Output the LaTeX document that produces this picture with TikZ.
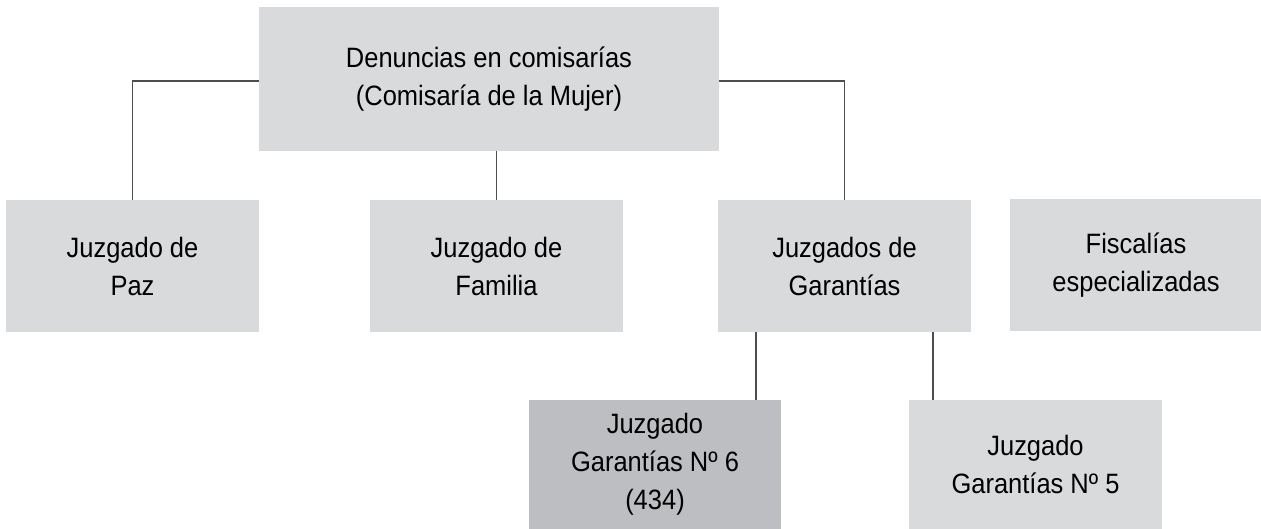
\documentclass[tikz,border=0pt]{standalone}
\usepackage{fontspec}
\setmainfont{Liberation Sans}[FakeStretch=0.91]
\usetikzlibrary{calc}
\definecolor{boxgray}{HTML}{D9DADC}
\definecolor{boxdark}{HTML}{BDBEC1}
\definecolor{linegray}{HTML}{4D4D4D}

\begin{document}
\begin{tikzpicture}[x=1pt,y=-1pt,
		box/.style={fill=boxgray, draw=none, inner sep=0pt, align=center,
			minimum width=253pt, minimum height=132pt,
			font=\fontsize{28}{38}\selectfont},
		link/.style={draw=linegray, line width=1.6pt}]
		\useasboundingbox (0,0) rectangle (1261,529);
		
		%top
		\node[box, minimum width=460pt, minimum height=144pt] (comisarias) at (489,79) {Denuncias en comisarías\\(Comisaría de la Mujer)};
		
		%second row
		\node[box] (paz) at (132.5,266) {Juzgado de\\Paz};
		\node[box] (familia) at (496.5,266) {Juzgado de\\Familia};
		\node[box] (garantias) at (844.5,266) {Juzgados de\\Garantías};
		\node[box, minimum width=252pt] (fiscalias) at (1136,265) {Fiscalías\\especializadas};
		
		%third row
		\node[box, fill=boxdark, minimum width=252pt, minimum height=129pt] (seis) at (655,464.5) {Juzgado\\Garantías Nº 6\\(434)};
		\node[box, minimum height=129pt] (cinco) at (1035.5,464.5) {Juzgado\\Garantías Nº 5};
		
		%lines
		\draw[link] ([yshift=-2pt]comisarias.west) -| (paz.north);
		\draw[link] (comisarias.south -| familia.north) -- (familia.north);
		\draw[link] ([yshift=-2pt]comisarias.east) -| (garantias.north);
		
		\coordinate (gleft) at ($(garantias.south west)+(38,0)$);
		\coordinate (gright) at ($(garantias.south east)+(-38,0)$);
		\draw[link] (gleft) -- (gleft |- seis.north);
		\draw[link] (gright) -- (gright |- cinco.north);
	
\end{tikzpicture}
\end{document}
